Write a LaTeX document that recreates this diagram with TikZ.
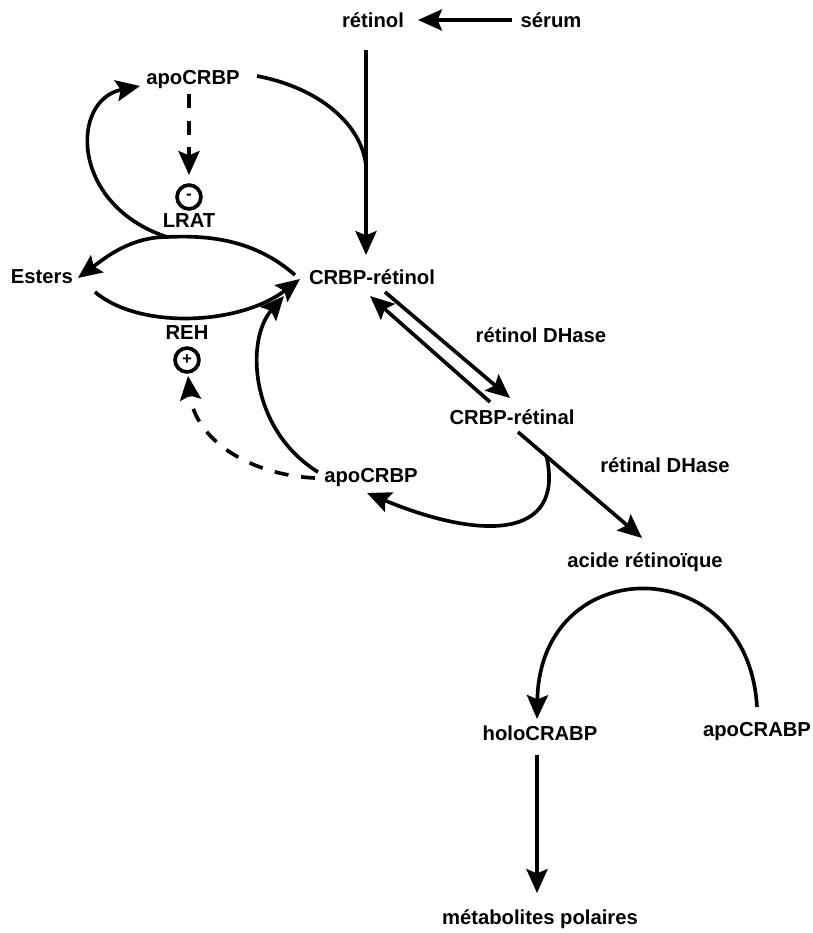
\documentclass[tikz,border=0pt]{standalone}
\usepackage{fontspec}
\setmainfont{Liberation Sans}
\usetikzlibrary{arrows.meta,positioning}
\tikzset{
>={Stealth[length=17pt,width=15pt,inset=3pt]}, % big filled heads as in the scan
every path/.style={line width=2.6pt},
every node/.style={font=\bfseries\fontsize{14.4}{16}\selectfont,align=center},
on grid
}

\begin{document}
\begin{tikzpicture}[x=0.025cm,y=-0.025cm,
  sign/.style={circle,draw,line width=2.6pt,inner sep=0pt,minimum size=17pt,font=\bfseries\fontsize{12}{12}\selectfont},
  regul/.style={dash pattern=on 10pt off 9pt}]
   \useasboundingbox (0,0) rectangle (813,933);
   % retinol entry
   \node (retinol) at (373,20) {rétinol};
   \node (serum) [right=4.45cm of retinol] {sérum};
   \node (crbpol) at (372,277) {CRBP-rétinol};
   \node (esters) [left=8.25cm of crbpol] {Esters};
   \node (apoA) at (193,80) {apoCRBP};
   \node[sign] (minus) at (189,197) {-};
   \node (lrat) [below=0.6cm of minus] {LRAT};
   \node (reh) at (187,333) {REH};
   \node[sign] (plus) [below=0.675cm of reh] {+};
   \node (apoB) at (371,478) {apoCRBP};
   % oxidation
   \node (crbpal) at (512,417) {CRBP-rétinal};
   \node (dhol) at (541,335) {rétinol DHase};
   \node (dhal) at (665,465) {rétinal DHase};
   \node (acide) at (645,562) {acide rétinoïque};
   \node (holo) at (540,733) {holoCRABP};
   \node (apocrabp) at (757,732) {apoCRABP};
   \node (metab) [below=4.65cm of holo] {métabolites polaires};
   \coordinate (join) at (366,166);
   \coordinate (lratpt) at (167,237);

   \draw[->] ([shift={(-39,0)}]serum.center) -- ([shift={(45,0)}]retinol.center);
   \draw[->] ([shift={(-7,30)}]retinol.center) -- ([shift={(-6,-22)}]crbpol.center);
   \draw ([shift={(64,-4)}]apoA.center) .. controls (320,88) and (362,125) .. (join);
   % LRAT / REH cycle
   \draw[->] ([shift={(-77,-2)}]crbpol.center) .. controls (255,240) and (210,235) .. (lratpt)
      .. controls (130,237) and (105,258) .. ([shift={(36,1)}]esters.center);
   \draw[->] (lratpt) .. controls (70,205) and (70,100) .. ([shift={(-53,6)}]apoA.center);
   \draw[->] ([shift={(53,15)}]esters.center) .. controls (140,330) and (240,325) .. ([shift={(-72,2)}]crbpol.center);
   \draw[->,regul] ([shift={(-4,14)}]apoA.center) -- ([shift={(0,-22)}]minus.center);
   \draw[->] ([shift={(-53,-6)}]apoB.center) .. controls (250,430) and (245,340) .. ([shift={(-88,19)}]crbpol.center);
   \draw[->,regul] ([shift={(-56,0)}]apoB.center) .. controls (250,475) and (195,440) .. ([shift={(1,16)}]plus.center);
   % dehydrogenases
   \draw[->] ([shift={(13,15)}]crbpol.center) -- ([shift={(-2,-19)}]crbpal.center);
   \draw[->] ([shift={(-22,-15)}]crbpal.center) -- ([shift={(-2,19)}]crbpol.center);
   \draw[->] ([shift={(6,15)}]crbpal.center) -- coordinate[pos=0.23] (split) ([shift={(-3,-24)}]acide.center);
   \draw[->] (split) .. controls (565,540) and (480,540) .. ([shift={(-4,15)}]apoB.center);
   % CRABP
   \draw[->] ([shift={(0,-25)}]apocrabp.center) .. controls (748,550) and (540,550) .. ([shift={(-3,-14)}]holo.center);
   \draw[->] ([shift={(-3,22)}]holo.center) -- ([shift={(-3,-26)}]metab.center);
\end{tikzpicture}
\end{document}
